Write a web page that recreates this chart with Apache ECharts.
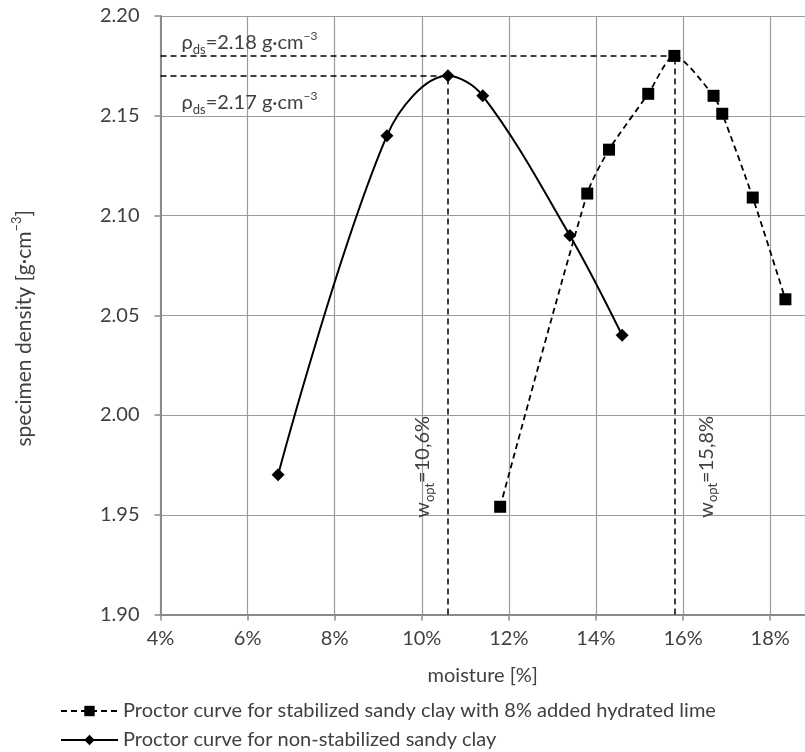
<!DOCTYPE html>
<html>
<head>
<meta charset="utf-8">
<script src="https://cdn.jsdelivr.net/npm/echarts@6/dist/echarts.min.js"></script>
<style>
  html, body { margin: 0; padding: 0; background: #fff; }
  #chart { width: 805px; height: 752px; }
</style>
</head>
<body>
<div id="chart"></div>
<script>
// Proctor compaction test: moisture [%] vs. specimen dry density [g·cm^-3]
const moistureStabilized = [11.8, 13.8, 14.3, 15.2, 15.8, 16.7, 16.9, 17.6, 18.35];
const densityStabilized  = [1.954, 2.111, 2.133, 2.161, 2.180, 2.160, 2.151, 2.109, 2.058];

const moistureNatural = [6.7, 9.2, 10.6, 11.4, 13.4, 14.6];
const densityNatural  = [1.97, 2.14, 2.17, 2.16, 2.09, 2.04];

const moistureTicks = [4, 6, 8, 10, 12, 14, 16, 18];
const densityTicks  = [1.90, 1.95, 2.00, 2.05, 2.10, 2.15, 2.20];

const nameStabilized = 'Proctor curve for stabilized sandy clay with 8% added hydrated lime';
const nameNatural    = 'Proctor curve for non-stabilized sandy clay';

// axis extents
const X_MIN = 4, X_MAX = 18.8, X_STEP = 2;
const Y_MIN = 1.90, Y_MAX = 2.20, Y_STEP = 0.05;

const FONT = 'Lato, "Liberation Sans", sans-serif';
const TEXT = '#404040';

function toPairs(xs, ys) { return xs.map((x, i) => [x, ys[i]]); }
function optimum(xs, ys) {
  let k = 0;
  ys.forEach((v, i) => { if (v > ys[k]) k = i; });
  return { w: xs[k], rho: ys[k] };
}
const optStab = optimum(moistureStabilized, densityStabilized);
const optNat  = optimum(moistureNatural, densityNatural);

function guideLines(opt) {
  return [
    [{ coord: [X_MIN, opt.rho] }, { coord: [opt.w, opt.rho] }],
    [{ coord: [opt.w, Y_MIN] }, { coord: [opt.w, opt.rho] }]
  ];
}
const guideStyle = { color: '#000', width: 1.5, type: [6, 4] };

const legendBase = {
  orient: 'horizontal',
  left: 55,
  itemWidth: 57, itemHeight: 13,
  textStyle: { fontFamily: FONT, fontSize: 20, color: TEXT }
};

const chart = echarts.init(document.getElementById('chart'), null, { renderer: 'canvas' });

const option = {
  animation: false,
  backgroundColor: '#fff',
  textStyle: { fontFamily: FONT },
  grid: { left: 160.5, right: 0, top: 16, bottom: 137.5 },
  xAxis: {
    type: 'value',
    min: X_MIN, max: X_MAX, interval: X_STEP,
    name: 'moisture [%]',
    nameLocation: 'middle',
    nameGap: 51,
    nameTextStyle: { fontFamily: FONT, fontSize: 20, color: TEXT },
    axisLine: { show: true, lineStyle: { color: '#8a8a8a', width: 2 } },
    axisTick: { show: true, length: 6, lineStyle: { color: '#8a8a8a', width: 1.5 } },
    axisLabel: {
      margin: 14, fontFamily: FONT, fontSize: 20, color: TEXT,
      showMaxLabel: false,
      formatter: v => moistureTicks.includes(Math.round(v * 100) / 100) ? v + '%' : ''
    },
    splitLine: { show: true, lineStyle: { color: '#9a9a9a', width: 1.2 } }
  },
  yAxis: {
    type: 'value',
    min: Y_MIN, max: Y_MAX, interval: Y_STEP,
    name: '{a|specimen density [g·cm}{b|−3}{a|]}',
    nameLocation: 'middle',
    nameGap: 122,
    nameRotate: 90,
    nameTextStyle: {
      color: TEXT,
      padding: [0, 26, 0, 0],
      rich: {
        a: { fontFamily: FONT, fontSize: 21, color: TEXT, lineHeight: 28 },
        b: { fontFamily: FONT, fontSize: 13, color: TEXT, lineHeight: 13, verticalAlign: 'top' }
      }
    },
    axisLine: { show: true, lineStyle: { color: '#8a8a8a', width: 2 } },
    axisTick: { show: true, length: 6, lineStyle: { color: '#8a8a8a', width: 1.5 } },
    axisLabel: {
      margin: 21, fontFamily: FONT, fontSize: 20, color: TEXT,
      formatter: v => {
        const t = densityTicks.find(d => Math.abs(d - v) < 1e-6);
        return t === undefined ? '' : t.toFixed(2);
      }
    },
    splitLine: { show: true, lineStyle: { color: '#9a9a9a', width: 1.2 } }
  },
  legend: [
    Object.assign({}, legendBase, { top: 696, data: [nameStabilized] }),
    Object.assign({}, legendBase, { top: 725, data: [nameNatural] })
  ],
  series: [
    {
      name: nameStabilized,
      type: 'line',
      data: toPairs(moistureStabilized, densityStabilized),
      smooth: 0.25,
      symbol: 'rect', symbolSize: 12,
      itemStyle: { color: '#000' },
      lineStyle: { color: '#000', width: 1.8, type: [6, 4] },
      z: 3,
      markLine: {
        silent: true, symbol: 'none',
        label: { show: false },
        lineStyle: guideStyle,
        data: guideLines(optStab)
      }
    },
    {
      name: nameNatural,
      type: 'line',
      data: toPairs(moistureNatural, densityNatural),
      smooth: 0.35,
      symbol: 'diamond', symbolSize: 13,
      itemStyle: { color: '#000' },
      lineStyle: { color: '#000', width: 2 },
      z: 3,
      markLine: {
        silent: true, symbol: 'none',
        label: { show: false },
        lineStyle: guideStyle,
        data: guideLines(optNat)
      }
    }
  ]
};

chart.setOption(option);

// annotation texts placed next to the optimum guide lines
const annRich = {
  r: { fontFamily: FONT, fontSize: 20, fill: TEXT, lineHeight: 26 },
  s: { fontFamily: FONT, fontSize: 13, fill: TEXT, lineHeight: 12, verticalAlign: 'bottom' },
  p: { fontFamily: FONT, fontSize: 12, fill: TEXT, lineHeight: 12, verticalAlign: 'top' }
};
function rhoText(opt) { return '{r|ρ}{s|ds}{r|=' + opt.rho.toFixed(2) + ' g·cm}{p|−3}'; }
function wText(opt) { return '{r|w}{s|opt}{r|=' + opt.w.toFixed(1).replace('.', ',') + '%}'; }

const LABEL_RHO = 1.974; // vertical position of the w_opt captions
const pStabH = chart.convertToPixel({ gridIndex: 0 }, [X_MIN, optStab.rho]);
const pNatH  = chart.convertToPixel({ gridIndex: 0 }, [X_MIN, optNat.rho]);
const pStabV = chart.convertToPixel({ gridIndex: 0 }, [optStab.w, LABEL_RHO]);
const pNatV  = chart.convertToPixel({ gridIndex: 0 }, [optNat.w, LABEL_RHO]);

chart.setOption({
  graphic: [
    { type: 'text', x: pStabH[0] + 21, y: pStabH[1] - 13, z: 10,
      style: { text: rhoText(optStab), rich: annRich, align: 'left', verticalAlign: 'middle' } },
    { type: 'text', x: pNatH[0] + 21, y: pNatH[1] + 27, z: 10,
      style: { text: rhoText(optNat), rich: annRich, align: 'left', verticalAlign: 'middle' } },
    { type: 'text', x: pNatV[0] - 25, y: pNatV[1], rotation: Math.PI / 2, z: 10,
      style: { text: wText(optNat), rich: annRich, align: 'center', verticalAlign: 'middle' } },
    { type: 'text', x: pStabV[0] + 32, y: pStabV[1], rotation: Math.PI / 2, z: 10,
      style: { text: wText(optStab), rich: annRich, align: 'center', verticalAlign: 'middle' } }
  ]
});
</script>
</body>
</html>
